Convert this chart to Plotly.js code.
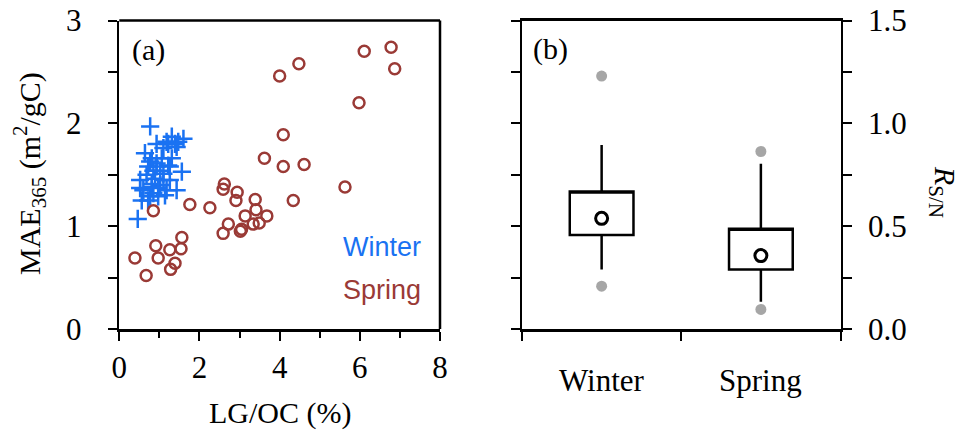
<!DOCTYPE html>
<html>
<head>
<meta charset="utf-8">
<script src="https://cdn.plot.ly/plotly-3.0.1.min.js"></script>
<style>html,body{margin:0;padding:0;background:#fff;}#chart{width:966px;height:436px;}</style>
</head>
<body>
<div id="chart"></div>
<script>
// ---- Panel (a): LG/OC (%) vs MAE365 ----
const winterX = [0.77,0.46,1.60,1.31,0.93,0.64,1.56,1.43,0.56,0.52,0.52,0.77,0.97,1.10,1.43,1.22,1.06,0.77,0.85,0.68,0.89,1.10,1.22,1.26,1.02,0.81,1.18,0.93,1.31,0.81,0.97,0.85,1.10,0.72,0.93,1.39,1.47,1.18,0.60,0.72,1.02,0.81,1.26,1.14];
const winterY = [1.97,1.07,1.85,1.87,1.80,1.71,1.53,1.35,1.25,1.37,1.45,1.29,1.29,1.76,1.77,1.80,1.66,1.63,1.54,1.50,1.46,1.51,1.59,1.45,1.40,1.38,1.35,1.58,1.66,1.41,1.37,1.32,1.45,1.58,1.61,1.80,1.82,1.82,1.35,1.25,1.54,1.66,1.58,1.30];
const springX = [0.85,1.76,2.26,2.62,2.59,2.94,2.91,3.39,3.41,3.68,3.14,3.34,3.49,3.05,3.02,2.72,2.59,4.34,1.56,1.54,1.26,0.91,0.97,1.39,1.28,0.39,0.67,6.11,6.78,6.87,4.48,4.00,5.98,4.09,3.62,4.09,4.61,5.63];
const springY = [1.15,1.21,1.18,1.41,1.36,1.33,1.25,1.26,1.16,1.10,1.10,1.02,1.03,0.97,0.95,1.02,0.93,1.25,0.89,0.78,0.77,0.81,0.69,0.64,0.58,0.69,0.52,2.70,2.74,2.53,2.58,2.46,2.20,1.89,1.66,1.58,1.60,1.38];
const yTicksA = ['0','1','2','3'];

// ---- Panel (b): R_S/N box plot ----
const seasons = ['Winter','Spring'];
const boxLowerFence = [0.289, 0.132];
const boxQ1 = [0.457, 0.289];
const boxQ3 = [0.669, 0.488];
const boxUpperFence = [0.895, 0.803];
const boxMean = [0.538, 0.357];
const outlierX = ['Winter','Winter','Spring','Spring'];
const outlierY = [1.23, 0.208, 0.863, 0.095];
const yTicksB = ['0.0','0.5','1.0','1.5'];

const blue = '#1a72f2';
const brown = '#9a3a36';
const W = 966, H = 436;
const px = v => v / W;
const py = v => 1 - v / H;
const serif = 'Liberation Serif';

const traces = [
  {type:'scatter', mode:'markers', x:winterX, y:winterY, xaxis:'x', yaxis:'y',
   marker:{symbol:'cross-thin-open', size:13, color:blue, line:{width:2.5, color:blue}}, hoverinfo:'skip'},
  {type:'scatter', mode:'markers', x:springX, y:springY, xaxis:'x', yaxis:'y',
   marker:{symbol:'circle-open', size:11, color:brown, line:{width:2.5, color:brown}}, hoverinfo:'skip'},
  {type:'box', x:seasons, q1:boxQ1, median:boxQ3, q3:boxQ3, lowerfence:boxLowerFence, upperfence:boxUpperFence,
   xaxis:'x2', yaxis:'y2', boxpoints:false, width:0.4, whiskerwidth:0,
   line:{color:'#000', width:2.5}, fillcolor:'rgba(255,255,255,0)', hoverinfo:'skip'},
  {type:'scatter', mode:'markers', x:seasons, y:boxMean, xaxis:'x2', yaxis:'y2',
   marker:{symbol:'circle-open', size:12, color:'#000', line:{width:3, color:'#000'}}, hoverinfo:'skip'},
  {type:'scatter', mode:'markers', x:outlierX, y:outlierY, xaxis:'x2', yaxis:'y2',
   marker:{symbol:'circle', size:11, color:'#a6a6a6'}, hoverinfo:'skip'}
];

function ax(extra) {
  return Object.assign({showline:true, linecolor:'#000', linewidth:2.5, ticks:'outside', ticklen:9, tickwidth:2,
    tickcolor:'#000', showgrid:false, zeroline:false, automargin:false, fixedrange:true,
    tickfont:{family:serif, size:31, color:'#000'}}, extra);
}

const aL = 119.3, aR = 440, bL = 522, bR = 840.5, pT = 20.5, pB = 329;
const frameLine = {color:'#000', width:2.5};
const labFont = {family:serif, size:31, color:'#000'};

const annotations = [
  {xref:'paper', yref:'paper', x:px(280), y:py(413), text:'LG/OC (%)', showarrow:false,
   xanchor:'center', yanchor:'middle', font:{size:30}},
  {xref:'paper', yref:'paper', x:px(30), y:py(174), text:'MAE<sub>365</sub> (m<sup>2</sup>/gC)', showarrow:false,
   textangle:-90, xanchor:'center', yanchor:'middle', font:{size:30}},
  {xref:'paper', yref:'paper', x:px(943), y:py(192), text:'<i>R</i><sub>S/N</sub>', showarrow:false,
   textangle:90, xanchor:'center', yanchor:'middle', font:{size:30}},
  {xref:'paper', yref:'paper', x:px(148), y:py(50), text:'(a)', showarrow:false,
   xanchor:'center', yanchor:'middle', font:{size:30}},
  {xref:'paper', yref:'paper', x:px(550), y:py(49), text:'(b)', showarrow:false,
   xanchor:'center', yanchor:'middle', font:{size:30}},
  {xref:'paper', yref:'paper', x:px(382), y:py(247), text:'Winter', showarrow:false,
   xanchor:'center', yanchor:'middle', font:{family:'Liberation Sans', size:27, color:blue}},
  {xref:'paper', yref:'paper', x:px(382), y:py(290), text:'Spring', showarrow:false,
   xanchor:'center', yanchor:'middle', font:{family:'Liberation Sans', size:27, color:brown}}
];
// category labels of panel (b), placed on the category axis scale
seasons.forEach(s => annotations.push({xref:'x2', yref:'paper', x:s, y:py(380), text:s, showarrow:false,
  xanchor:'center', yanchor:'middle', font:labFont}));
// y tick labels, placed on each axis scale
yTicksA.forEach(t => annotations.push({xref:'paper', yref:'y', x:px(84), y:Number(t), text:t, showarrow:false,
  xanchor:'right', yanchor:'middle', font:labFont}));
yTicksB.forEach(t => annotations.push({xref:'paper', yref:'y2', x:px(866), y:Number(t), text:t, showarrow:false,
  xanchor:'left', yanchor:'middle', font:labFont}));

const layout = {
  width:W, height:H, margin:{l:0,r:0,t:0,b:0}, showlegend:false,
  paper_bgcolor:'#fff', plot_bgcolor:'#fff',
  font:{family:serif, size:30, color:'#000'},
  xaxis:ax({domain:[px(aL), px(aR)], range:[0,8], dtick:2, tick0:0,
    anchor:'y', minor:{dtick:1, ticks:'outside', ticklen:6, tickwidth:2, tickcolor:'#000'}}),
  yaxis:ax({domain:[py(pB), py(pT)], range:[0,3], dtick:1, tick0:0, showticklabels:false,
    anchor:'x', minor:{dtick:0.5, ticks:'outside', ticklen:9, tickwidth:2, tickcolor:'#000'}}),
  xaxis2:ax({domain:[px(bL), px(bR)], type:'category', categoryorder:'array', showticklabels:false,
    categoryarray:seasons, range:[-0.5,1.5], tickson:'boundaries', mirror:true, anchor:'y2'}),
  yaxis2:ax({domain:[py(pB), py(pT)], range:[0,1.5], dtick:0.5, tick0:0, showticklabels:false,
    side:'right', mirror:'ticks', anchor:'x2',
    minor:{dtick:0.25, ticks:'outside', ticklen:9, tickwidth:2, tickcolor:'#000'}}),
  shapes:[
    {type:'line', xref:'paper', yref:'paper', x0:px(aL), x1:px(aR), y0:py(pT), y1:py(pT), line:frameLine},
    {type:'line', xref:'paper', yref:'paper', x0:px(aR), x1:px(aR), y0:py(pT), y1:py(pB), line:frameLine}
  ],
  annotations:annotations
};

Plotly.newPlot('chart', traces, layout, {staticPlot:true, displayModeBar:false});
</script>
</body>
</html>
